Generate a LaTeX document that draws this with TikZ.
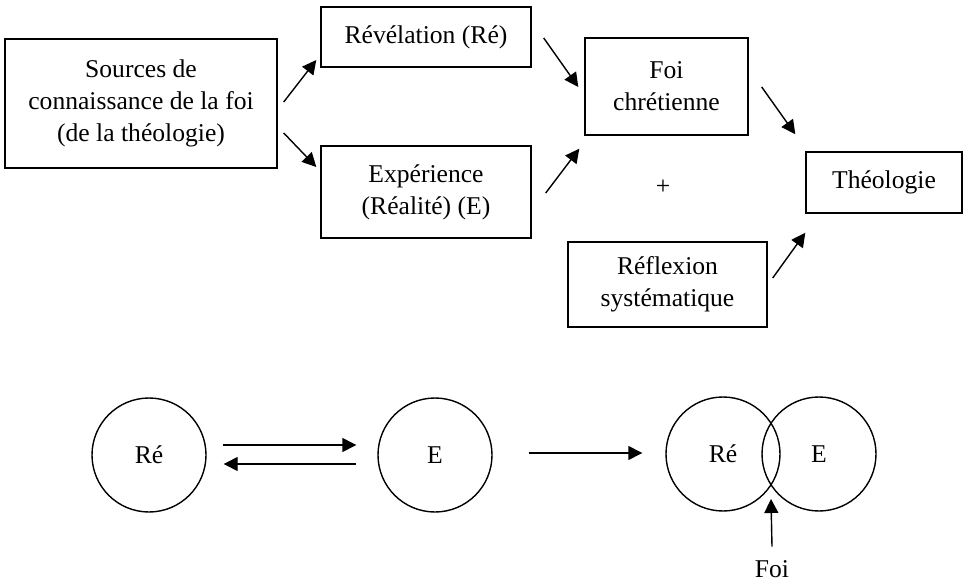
\documentclass[tikz,border=0pt]{standalone}
\usepackage{fontspec}
\setmainfont{Liberation Serif}
\usepackage{tikz}
\usetikzlibrary{arrows.meta,calc,positioning}

\begin{document}
\begin{tikzpicture} [
			x=0.5pt,y=-0.5pt,
			box/.style={draw,line width=0.7pt,inner sep=0pt,align=center},
			ring/.style={draw,circle,line width=0.7pt,inner sep=0pt,minimum size=57pt},
			arr/.style={-{Triangle[length=7pt,width=7pt]},line width=0.7pt},
			every node/.style={font=\fontsize{12.8}{16}\selectfont},
		]
		\useasboundingbox (0,0) rectangle (963,582);

		% upper scheme
		\node[box,minimum width=136pt,minimum height=64.5pt] (sources) at (141,103.5) {Sources de\\connaissance de la foi\\(de la th\'eologie)};
		\node[box,minimum width=105pt,minimum height=30pt] (revel) at (426,37) {R\'ev\'elation (R\'e)};
		\node[box,minimum width=105pt,minimum height=46pt] (exper) at (426,192) {Exp\'erience\\(R\'ealit\'e) (E)};
		\node[box,minimum width=81.5pt,minimum height=48.5pt] (foi) at (666.5,86.5) {Foi\\chr\'etienne};
		\node[box,minimum width=99.5pt,minimum height=42.5pt] (reflex) at (667.5,284.5) {R\'eflexion\\syst\'ematique};
		\node[box,minimum width=78pt,minimum height=30.5pt] (theo) at (884,182.5) {Th\'eologie};
		\node (plus) at (663,187) {+};

		\draw[arr] ($(sources.east)+(6,-1.5)$) -- ($(revel.west)+(-4,23)$);
		\draw[arr] ($(sources.east)+(6,29.5)$) -- ($(exper.west)+(-4,-25)$);
		\draw[arr] ($(revel.east)+(12,1)$) -- ($(foi.west)+(-6,0.5)$);
		\draw[arr] ($(exper.east)+(14,1)$) -- ($(foi.south west)+(-5,13)$);
		\draw[arr] ($(foi.east)+(13,0.5)$) -- ($(theo.north west)+(-10,-17)$);
		\draw[arr] ($(reflex.east)+(5,-6.5)$) -- ($(theo.south west)+(0,19)$);

		% lower scheme
		\node[ring] (re1) at (149,455) {R\'e};
		\node[ring] (e1) at (435,455) {E};
		\node[ring] (re2) at (723,454) {};
		\node[ring] (e2) at (819,454) {};
		\node (re2txt) at (re2) {R\'e};
		\node (e2txt) at (e2) {E};
		\node[inner sep=0pt,anchor=base] (foilbl) at (772,577) {Foi};

		\coordinate (cut) at ($(re2.east)!0.5!(e2.west)+(0,45)$);

		\draw[arr] ($(re1.east)+(16,-10)$) -- ($(e1.west)+(-21,-10)$);
		\draw[arr] ($(e1.west)+(-21,9)$) -- ($(re1.east)+(17,9)$);
		\draw[arr] ($(e1.east)+(36,-2)$) -- ($(re2.west)+(-23,-1)$);
		\draw[arr] ($(foilbl.north)+(0,-13)$) -- (cut);

	\end{tikzpicture}
\end{document}
